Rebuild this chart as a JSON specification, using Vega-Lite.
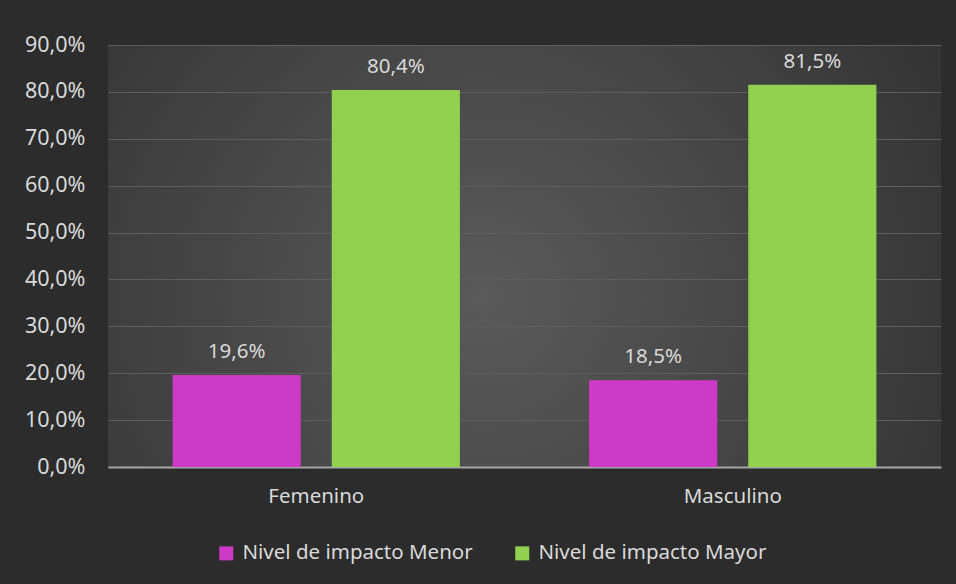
{
  "$schema": "https://vega.github.io/schema/vega-lite/v6.json",
  "autosize": {"type": "none"},
  "width": 833,
  "height": 422,
  "padding": {"left": 108, "top": 45, "right": 15, "bottom": 117},
  "background": "#2c2c2c",
  "config": {
    "locale": {"number": {"decimal": ",", "thousands": ".", "grouping": [3], "currency": ["", " €"]}},
    "font": "Noto Sans",
    "view": {
      "stroke": null,
      "fill": {"gradient": "radial", "x1": 0.45, "y1": 0.55, "x2": 0.45, "y2": 0.55, "r1": 0, "r2": 0.75,
        "stops": [{"offset": 0, "color": "#5a5a5a"}, {"offset": 1, "color": "#2c2c2c"}]}
    }
  },
  "data": {
    "values": [
      {"sexo": "Femenino", "nivel": "Nivel de impacto Menor", "valor": 0.196},
      {"sexo": "Femenino", "nivel": "Nivel de impacto Mayor", "valor": 0.804},
      {"sexo": "Masculino", "nivel": "Nivel de impacto Menor", "valor": 0.185},
      {"sexo": "Masculino", "nivel": "Nivel de impacto Mayor", "valor": 0.815}
    ]
  },
  "encoding": {
    "x": {
      "field": "sexo", "type": "nominal", "sort": ["Femenino", "Masculino"],
      "scale": {"paddingInner": 0, "paddingOuter": 0},
      "axis": {"title": null, "labelAngle": 0, "labelColor": "#d9d9d9", "labelFontSize": 20.5,
        "labelPadding": 19, "ticks": false, "domainColor": "#a6a6a6", "domainWidth": 2, "grid": false}
    },
    "xOffset": {
      "field": "nivel", "type": "nominal", "sort": ["Nivel de impacto Menor", "Nivel de impacto Mayor"],
      "scale": {"paddingInner": 0.195, "paddingOuter": 0.406}
    },
    "y": {
      "field": "valor", "type": "quantitative",
      "scale": {"domain": [0, 0.9], "nice": false},
      "axis": {"title": null, "format": ".1%", "values": [0, 0.1, 0.2, 0.3, 0.4, 0.5, 0.6, 0.7, 0.8, 0.9],
        "labelOverlap": false, "labelColor": "#d9d9d9", "labelFontSize": 21.5, "labelPadding": 23, "ticks": false, "domain": false,
        "gridColor": "#5e5e5e", "gridWidth": 1}
    }
  },
  "layer": [
    {
      "mark": {"type": "bar"},
      "encoding": {
        "color": {
          "field": "nivel", "type": "nominal", "sort": ["Nivel de impacto Menor", "Nivel de impacto Mayor"],
          "scale": {"domain": ["Nivel de impacto Menor", "Nivel de impacto Mayor"], "range": ["#cc3ac6", "#92d050"]},
          "legend": {
            "title": null, "orient": "none", "legendX": 108, "legendY": 498, "direction": "horizontal", "symbolType": "square",
            "symbolSize": 196, "symbolStrokeWidth": 0, "labelColor": "#d9d9d9", "labelFontSize": 20.5,
            "labelOffset": 6, "columnPadding": 39, "labelLimit": 400
          }
        }
      }
    },
    {
      "mark": {"type": "text", "baseline": "alphabetic", "dy": -17, "fontSize": 20.5, "color": "#d9d9d9"},
      "encoding": {
        "text": {"field": "valor", "type": "quantitative", "format": ".1%"}
      }
    }
  ]
}
